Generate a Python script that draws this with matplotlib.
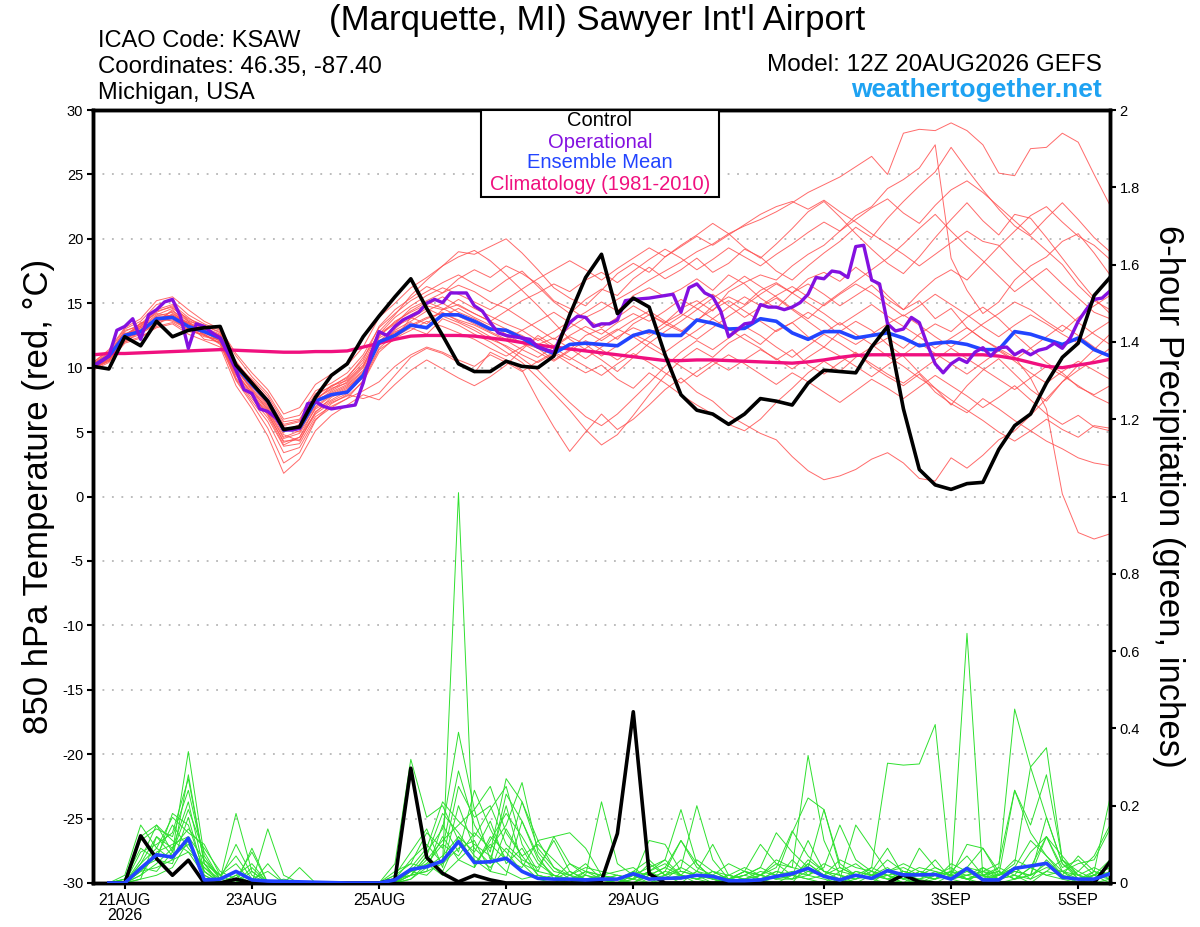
import numpy as np
import matplotlib
matplotlib.use("Agg")
import matplotlib.pyplot as plt
from matplotlib.patches import Rectangle

plt.rcParams['font.family'] = ['Liberation Sans', 'DejaVu Sans']

# ---------------- data ----------------
# 6-hourly steps from 20AUG 12Z (index 0) to 5SEP 12Z (index 64)
control_temp = [10.1, 9.9, 12.4, 11.7, 13.6, 12.4, 12.9, 13.1, 13.2,
                10.2, 8.8, 7.4, 5.2, 5.4, 7.7, 9.4, 10.3,
                12.4, 14.0, 15.5, 16.9, 14.6, 12.5, 10.3, 9.7,
                9.7, 10.5, 10.1, 10.0, 10.9, 14.1, 17.0, 18.8, 14.2, 15.4, 14.7, 11.0,
                7.9, 6.7, 6.4, 5.6, 6.4, 7.6, 7.4, 7.1, 8.8, 9.8, 9.7, 9.6, 11.6, 13.2,
                6.8, 2.1, 0.9, 0.55, 1.0, 1.1, 3.65, 5.5, 6.4, 8.8, 10.8, 11.9, 15.6, 17.0]

mean_temp = [10.1, 10.9, 12.5, 12.8, 13.8, 13.9, 13.2, 12.8, 12.3,
             10.1, 8.7, 7.4, 5.15, 5.3, 7.4, 7.9, 8.1,
             9.4, 12.0, 12.5, 13.3, 13.1, 14.1, 14.1, 13.6,
             13.0, 12.9, 12.3, 11.6, 11.1, 11.8, 11.9, 11.8, 11.7, 12.5, 12.85, 12.5,
             12.5, 13.7, 13.45, 13.0, 13.05, 13.8, 13.6, 12.7, 12.2, 12.8, 12.8, 12.3, 12.5, 12.7,
             12.3, 11.7, 11.9, 12.0, 11.8, 11.4, 11.4, 12.8, 12.6, 12.2, 11.8, 12.3, 11.4, 10.9]

clim_temp = [11.0, 11.1, 11.1, 11.15, 11.2, 11.25, 11.3, 11.35, 11.4,
             11.35, 11.3, 11.25, 11.2, 11.2, 11.25, 11.25, 11.3,
             11.6, 11.9, 12.2, 12.45, 12.5, 12.5, 12.5, 12.45,
             12.3, 12.15, 11.95, 11.75, 11.6, 11.45, 11.3, 11.15, 11.0, 10.85, 10.7, 10.55,
             10.55, 10.6, 10.6, 10.55, 10.5, 10.45, 10.4, 10.35, 10.45, 10.6, 10.8, 10.95, 11.0, 11.0,
             11.0, 11.0, 11.0, 11.0, 11.0, 11.0, 10.9, 10.7, 10.4, 10.1, 10.0, 10.2, 10.4, 10.65]

# operational run: 3-hourly, index 0..128
oper_temp = [10.1, 10.5, 10.9, 12.9, 13.2, 13.8, 12.2, 14.1, 14.5, 15.1, 15.3, 14.0, 11.5,
             13.4, 13.2, 12.7, 12.3, 11.1, 9.8, 8.3, 8.0, 6.8, 6.6, 6.1, 5.2, 5.15, 5.3,
             7.2, 7.35, 7.0, 6.8, 6.9, 7.0, 7.1, 8.8, 11.1, 12.8, 12.5, 13.2, 13.7, 14.0,
             14.3, 15.0, 15.3, 15.05, 15.8, 15.8, 15.8, 14.8, 14.4, 13.5, 12.7, 12.5, 12.4,
             12.3, 12.2, 11.6, 11.4, 11.2, 12.6, 13.5, 14.0, 13.9, 13.2, 13.4, 13.4, 13.7,
             15.2, 15.3, 15.35, 15.4, 15.5, 15.6, 15.7, 14.3, 16.2, 16.5, 15.8, 15.5, 14.4,
             12.4, 12.9, 13.4, 13.5, 14.9, 14.7, 14.7, 14.5, 14.7, 15.05, 15.7, 17.0, 16.9,
             17.5, 17.4, 17.0, 19.4, 19.5, 16.8, 16.5, 13.4, 12.85, 13.0, 13.9, 13.5, 11.8,
             10.3, 9.6, 10.3, 10.7, 10.4, 11.2, 11.55, 10.9, 11.55, 11.6, 11.0, 11.35, 11.0,
             11.35, 11.5, 11.9, 11.5, 12.3, 13.6, 14.5, 15.3, 15.4, 15.95]

# ensemble members (850 hPa temperature, 6-hourly)
temp_m01 = [10.3, 11.2, 12.8, 13.4, 14.5, 14.9, 13.9, 13.0, 12.5, 10.5, 8.9, 7.6, 5.6, 5.9, 7.8, 8.6, 9.0,
            10.2, 12.5, 13.4, 14.6, 15.2, 15.8, 16.4, 15.9, 15.1, 14.6, 13.8, 13.0, 12.2, 13.1, 13.9, 14.5,
            15.3, 16.0, 16.8, 17.5, 18.2, 19.0, 19.6, 20.4, 21.0, 21.5, 22.1, 22.8, 23.6, 24.2, 24.8, 25.6,
            26.4, 25.0, 28.2, 28.5, 28.4, 29.0, 28.4, 27.3, 25.1, 24.9, 27.0, 27.1, 28.2, 27.5, 25.0, 22.6]
temp_m02 = [10.0, 10.6, 12.1, 12.6, 13.5, 14.1, 13.4, 12.9, 12.0, 9.6, 7.9, 6.5, 4.2, 4.6, 6.9, 7.8, 8.4,
            9.6, 11.8, 12.9, 13.6, 14.4, 15.0, 14.3, 13.8, 13.1, 12.4, 11.9, 11.5, 10.6, 11.4, 12.5, 13.0,
            12.2, 13.4, 14.1, 13.5, 14.6, 15.2, 14.4, 15.9, 16.6, 17.2, 16.8, 17.9, 18.8, 19.5, 20.6, 21.8,
            22.5, 23.9, 24.6, 25.5, 27.3, 18.5, 16.0, 14.2, 15.1, 16.8, 17.9, 18.6, 19.8, 20.4, 18.9, 17.2]
temp_m03 = [10.2, 10.8, 12.4, 13.1, 13.6, 14.4, 13.6, 12.5, 12.1, 9.2, 7.6, 6.1, 3.9, 4.1, 6.2, 7.0, 7.6,
            9.0, 11.4, 12.2, 13.9, 13.4, 14.5, 14.9, 14.2, 13.6, 13.0, 12.5, 11.8, 12.3, 11.5, 10.7, 11.6,
            12.4, 13.1, 12.6, 13.5, 14.2, 13.6, 14.8, 15.5, 14.9, 16.0, 16.6, 15.8, 16.9, 17.4, 16.7, 17.8,
            16.9, 15.6, 14.5, 15.2, 13.8, 14.6, 13.1, 12.2, 11.5, 10.8, 9.2, 6.8, 0.2, -2.8, -3.3, -2.9]
temp_m04 = [9.8, 10.4, 11.9, 12.3, 13.2, 13.5, 12.8, 12.6, 11.8, 9.0, 7.2, 5.3, 2.6, 3.4, 5.9, 7.2, 7.9,
            7.6, 8.0, 9.4, 10.8, 11.5, 11.1, 10.4, 9.6, 11.2, 10.6, 9.8, 7.5, 5.4, 3.5, 5.0, 6.4,
            5.2, 6.0, 7.1, 8.3, 9.2, 8.1, 7.4, 6.3, 5.6, 4.9, 4.4, 3.1, 2.0, 1.3, 1.6, 2.1,
            2.9, 3.4, 2.6, 1.4, 1.2, 3.0, 2.2, 3.2, 4.4, 5.1, 6.3, 7.6, 8.9, 10.2, 11.4, 12.6]
temp_m05 = [10.4, 11.3, 13.0, 13.6, 14.9, 15.2, 14.1, 13.4, 12.9, 10.9, 9.3, 8.0, 6.0, 6.3, 8.2, 8.8, 9.6,
            11.0, 13.1, 14.2, 15.2, 15.9, 16.6, 17.2, 16.5, 15.9, 16.8, 17.5, 16.3, 15.1, 14.2, 15.3, 16.1,
            15.6, 16.9, 17.8, 16.9, 17.6, 18.5, 17.4, 18.1, 19.2, 18.6, 17.5, 16.8, 17.9, 18.9, 19.8, 20.9,
            20.1, 21.6, 22.9, 24.1, 25.2, 27.1, 25.4, 23.8, 22.3, 21.0, 20.2, 19.1, 18.0, 16.4, 15.2, 14.5]
temp_m06 = [10.1, 11.0, 12.6, 13.2, 14.1, 14.6, 13.8, 13.3, 12.7, 10.3, 8.8, 7.2, 5.0, 5.6, 7.6, 8.3, 9.1,
            10.4, 12.8, 14.1, 15.6, 16.8, 17.9, 19.0, 18.8, 19.4, 20.0, 18.9, 17.6, 16.2, 15.4, 14.8, 16.0,
            17.3, 18.1, 17.4, 18.6, 19.5, 20.3, 21.2, 20.4, 19.3, 18.5, 19.6, 20.8, 22.1, 22.9, 21.7, 20.4,
            19.2, 18.1, 17.3, 18.6, 20.1, 21.5, 22.8, 21.4, 20.3, 21.9, 21.6, 20.1, 18.5, 16.9, 15.4, 14.2]
temp_m07 = [9.9, 10.7, 12.2, 12.9, 13.9, 13.6, 13.0, 12.4, 12.2, 9.9, 8.2, 6.8, 4.8, 4.3, 6.6, 7.4, 8.0,
            9.3, 11.9, 12.4, 13.1, 12.6, 13.8, 13.3, 12.6, 12.0, 11.2, 10.4, 9.2, 8.0, 6.7, 5.2, 4.0,
            4.8, 6.3, 7.9, 9.4, 10.6, 11.5, 10.8, 11.9, 12.6, 11.8, 12.9, 13.5, 12.4, 11.6, 12.8, 13.6,
            12.9, 11.8, 10.9, 9.6, 8.4, 7.1, 8.6, 9.8, 10.7, 9.5, 8.3, 7.4, 8.9, 9.8, 10.6, 11.5]
temp_m08 = [10.2, 10.9, 12.7, 12.5, 14.0, 14.0, 13.1, 12.9, 12.4, 10.0, 8.6, 7.0, 5.3, 5.0, 7.2, 8.1, 8.7,
            9.8, 12.3, 13.0, 14.1, 14.8, 14.5, 15.3, 14.6, 14.0, 13.4, 12.9, 12.1, 12.8, 13.6, 14.3, 15.1,
            14.4, 15.6, 16.2, 15.5, 16.1, 16.9, 16.0, 17.2, 16.5, 15.4, 14.6, 15.8, 16.5, 15.7, 14.8, 15.6,
            16.4, 15.3, 14.5, 15.8, 16.9, 17.6, 16.8, 18.1, 19.4, 20.6, 21.8, 22.5, 21.3, 20.2, 19.5, 18.4]
temp_m09 = [10.0, 10.5, 12.3, 12.7, 13.3, 14.2, 13.5, 12.2, 12.0, 9.5, 8.1, 6.6, 4.5, 4.9, 6.8, 7.5, 8.2,
            9.2, 11.5, 12.6, 13.3, 13.9, 14.2, 13.7, 13.3, 12.7, 12.1, 11.4, 10.8, 11.6, 12.4, 11.8, 10.9,
            11.7, 12.6, 12.0, 11.2, 12.1, 12.9, 13.8, 13.0, 12.2, 11.5, 10.6, 11.4, 10.2, 9.5, 10.4, 11.2,
            10.1, 9.3, 8.6, 9.5, 8.1, 7.2, 6.5, 7.6, 6.8, 5.9, 5.1, 4.3, 3.7, 3.0, 2.6, 2.4]
temp_m10 = [10.3, 11.1, 12.5, 13.0, 13.7, 13.8, 12.9, 12.8, 12.3, 9.8, 8.4, 6.9, 5.2, 5.4, 7.5, 8.0, 8.6,
            9.7, 12.1, 12.7, 13.5, 13.0, 14.0, 13.5, 12.9, 12.2, 11.7, 11.0, 10.4, 11.1, 10.3, 9.6, 10.2,
            9.1, 8.4, 9.6, 8.8, 7.9, 7.1, 6.4, 5.6, 5.1, 6.0, 7.3, 8.4, 9.6, 10.5, 9.7, 10.8,
            11.6, 12.3, 11.5, 12.6, 13.4, 12.8, 13.9, 14.7, 13.8, 12.6, 11.5, 10.4, 9.6, 8.5, 7.9, 8.6]
temp_m11 = [10.1, 10.8, 12.4, 13.3, 14.3, 14.8, 13.7, 13.1, 12.6, 10.2, 9.1, 7.8, 5.8, 6.0, 8.0, 8.5, 9.3,
            10.6, 13.2, 14.5, 15.4, 16.3, 15.8, 16.9, 17.6, 17.0, 17.9, 17.3, 16.5, 15.2, 14.6, 13.8, 13.1,
            13.9, 14.8, 14.1, 13.4, 12.8, 13.7, 14.5, 15.2, 14.4, 13.6, 12.8, 13.5, 14.3, 13.6, 12.5, 11.8,
            12.6, 13.4, 14.1, 13.3, 12.4, 11.6, 12.5, 13.4, 14.2, 15.1, 14.5, 13.6, 12.8, 13.9, 14.8, 15.6]
temp_m12 = [10.0, 10.7, 12.6, 13.1, 14.0, 14.3, 13.3, 12.8, 12.4, 10.1, 8.5, 7.3, 5.5, 5.8, 7.6, 8.4, 8.8,
            10.0, 12.4, 13.6, 14.3, 14.9, 15.5, 14.8, 14.2, 13.6, 14.4, 15.2, 15.8, 16.5, 15.9, 16.8, 17.4,
            16.6, 17.5, 18.4, 19.2, 18.5, 17.6, 18.4, 19.3, 18.6, 17.9, 18.8, 19.6, 20.5, 21.3, 20.6, 21.5,
            22.4, 23.1, 22.0, 21.2, 22.6, 23.8, 24.5, 23.6, 22.5, 21.4, 20.3, 21.6, 22.8, 21.5, 20.1, 19.0]
temp_m13 = [10.2, 10.6, 12.0, 12.8, 13.4, 13.9, 13.2, 12.6, 11.9, 9.1, 7.4, 5.8, 3.4, 3.8, 6.0, 6.9, 7.6,
            8.2, 8.9, 10.1, 11.0, 11.6, 11.2, 10.6, 10.1, 11.0, 10.4, 9.7, 10.5, 11.2, 10.6, 11.5, 12.3,
            13.0, 12.4, 11.6, 10.9, 10.1, 9.3, 10.2, 11.0, 10.3, 9.5, 8.7, 9.6, 8.9, 8.1, 7.3, 8.2,
            9.1, 8.4, 7.6, 8.5, 9.4, 8.6, 7.8, 6.9, 7.7, 8.6, 7.5, 6.4, 5.6, 6.3, 5.4, 5.1]
temp_m14 = [9.9, 10.5, 12.0, 12.4, 13.1, 13.4, 12.6, 12.1, 11.6, 8.6, 6.8, 4.7, 1.8, 2.9, 5.1, 6.3, 7.1,
            7.9, 7.5, 8.7, 9.8, 10.6, 9.9, 9.2, 8.6, 9.3, 10.2, 11.4, 12.5, 11.7, 12.5, 13.2, 12.6,
            13.5, 14.2, 13.6, 14.4, 15.3, 14.6, 13.8, 14.7, 15.5, 14.8, 15.6, 16.3, 15.5, 14.8, 15.7, 16.5,
            15.8, 14.9, 14.0, 14.8, 15.7, 14.9, 14.1, 13.2, 12.4, 13.3, 14.1, 13.4, 12.6, 11.9, 12.8, 13.6]
temp_m15 = [10.4, 11.4, 13.1, 13.8, 15.2, 15.5, 14.5, 13.6, 13.0, 11.1, 9.6, 8.3, 6.4, 6.9, 8.7, 9.5, 10.2,
            11.6, 13.9, 15.0, 16.2, 17.0, 17.9, 18.6, 19.1, 18.3, 17.2, 16.0, 14.8, 13.5, 12.2, 11.4, 10.6,
            9.7, 10.8, 11.9, 12.8, 13.6, 14.5, 15.4, 16.2, 17.1, 16.3, 15.5, 14.6, 13.8, 14.9, 15.8, 16.7,
            17.6, 18.5, 19.6, 20.8, 21.9, 20.6, 19.4, 18.3, 17.1, 15.9, 16.8, 17.7, 16.5, 15.4, 14.3, 13.8]
temp_m16 = [10.1, 10.9, 12.3, 13.5, 13.5, 14.5, 13.2, 12.7, 12.1, 9.7, 8.0, 6.3, 4.0, 4.6, 6.5, 7.7, 8.3,
            9.5, 11.7, 12.8, 13.2, 13.8, 14.3, 13.6, 13.1, 12.4, 11.6, 10.7, 9.8, 8.5, 7.3, 6.2, 5.5,
            6.4, 7.6, 8.8, 10.1, 11.2, 12.1, 11.4, 12.3, 13.2, 12.5, 11.6, 10.8, 11.7, 12.6, 11.9, 11.1,
            10.3, 9.5, 8.8, 9.7, 10.6, 11.5, 10.7, 9.9, 9.1, 8.3, 9.2, 10.1, 9.4, 8.6, 7.8, 7.2]
temp_m17 = [10.2, 11.0, 12.9, 13.2, 14.4, 14.7, 13.6, 13.2, 12.8, 10.4, 9.0, 7.5, 5.4, 5.2, 7.4, 8.6, 9.2,
            10.8, 12.6, 13.9, 14.8, 15.6, 16.2, 15.7, 15.1, 14.5, 15.3, 16.1, 16.9, 17.6, 18.3, 17.6, 16.8,
            17.7, 18.5, 19.3, 18.6, 19.4, 20.2, 19.5, 20.3, 21.1, 21.9, 22.5, 22.9, 22.3, 23.0, 22.1, 21.3,
            20.4, 19.6, 18.8, 17.9, 18.8, 19.7, 20.6, 19.8, 19.5, 18.2, 17.0, 15.8, 14.6, 13.5, 12.6, 11.8]
temp_m18 = [10.0, 10.8, 12.2, 12.9, 13.8, 14.1, 13.4, 12.9, 12.5, 10.0, 8.3, 6.7, 4.6, 5.1, 7.0, 7.9, 8.5,
            9.5, 12.0, 13.2, 13.8, 14.6, 14.0, 14.6, 13.9, 13.3, 12.6, 11.9, 11.2, 10.5, 11.3, 12.1, 11.4,
            10.6, 11.5, 12.4, 13.2, 14.0, 14.9, 15.7, 14.8, 13.9, 14.7, 15.4, 14.5, 13.6, 12.7, 13.5, 12.6,
            11.8, 10.9, 10.1, 9.2, 8.4, 7.5, 6.7, 5.9, 5.0, 4.3, 5.1, 6.0, 5.2, 4.6, 5.5, 5.3]
temp_m19 = [10.3, 11.0, 12.5, 13.4, 14.2, 14.0, 13.5, 13.0, 12.5, 10.1, 8.7, 7.1, 5.0, 5.5, 7.3, 8.2, 8.9,
            10.1, 12.6, 13.5, 14.4, 15.1, 14.6, 14.0, 13.4, 12.8, 12.2, 12.9, 13.6, 14.3, 13.5, 12.8, 12.1,
            12.9, 13.7, 14.4, 13.6, 12.9, 12.2, 13.1, 14.0, 14.8, 15.7, 16.5, 15.8, 15.0, 14.2, 13.3, 14.1,
            14.9, 14.0, 13.2, 12.4, 11.5, 12.3, 13.1, 12.2, 11.4, 10.6, 11.5, 12.4, 13.3, 12.5, 11.6, 10.8]
temp_m20 = [9.9, 10.6, 12.3, 12.7, 13.7, 13.7, 13.0, 12.5, 11.9, 9.4, 7.8, 6.4, 4.3, 4.4, 6.4, 7.3, 7.8,
            8.9, 11.2, 12.3, 12.9, 13.6, 13.2, 12.7, 12.2, 11.5, 10.9, 11.6, 12.3, 11.5, 10.8, 10.1, 9.4,
            10.3, 11.1, 10.4, 9.6, 8.8, 9.7, 10.5, 9.8, 10.6, 11.4, 10.7, 9.9, 10.8, 11.6, 10.9, 10.1,
            9.3, 10.2, 11.0, 11.9, 11.1, 10.3, 9.5, 10.4, 11.3, 10.5, 9.6, 8.8, 9.7, 10.5, 9.8, 9.1]

# 6-hour precipitation (inches), index 1..64
control_precip = [0, 0, 0.122, 0.063, 0.02, 0.059, 0.0, 0.0, 0.01, 0, 0, 0, 0, 0, 0, 0,
                  0, 0, 0.008, 0.297, 0.066, 0.025, 0.003, 0.02, 0.008, 0, 0, 0, 0, 0, 0, 0.006,
                  0.128, 0.443, 0.024, 0, 0, 0, 0, 0, 0, 0, 0, 0, 0, 0, 0, 0,
                  0, 0, 0.021, 0.003, 0, 0, 0, 0, 0, 0, 0, 0, 0, 0, 0, 0.055]
mean_precip = [0, 0, 0.038, 0.073, 0.067, 0.116, 0.008, 0.010, 0.03, 0.008, 0.005, 0.004, 0.003, 0.002, 0.001, 0,
               0, 0, 0.008, 0.035, 0.042, 0.057, 0.107, 0.053, 0.055, 0.064, 0.030, 0.012, 0.01, 0.01, 0.008, 0.01,
               0.01, 0.024, 0.01, 0.012, 0.013, 0.02, 0.017, 0.006, 0.006, 0.008, 0.017, 0.024, 0.038, 0.017, 0.008, 0.02,
               0.012, 0.032, 0.021, 0.021, 0.022, 0.010, 0.038, 0.008, 0.008, 0.038, 0.044, 0.051, 0.015, 0.010, 0.010, 0.024]

precip_g01 = [0, 0, 0.05, 0.12, 0.09, 0.21, 0.03, 0, 0.02, 0, 0, 0, 0, 0, 0, 0,
              0, 0, 0.01, 0.06, 0.10, 0.05, 1.01, 0.04, 0.12, 0.08, 0.03, 0.01, 0, 0.02, 0.05, 0.01,
              0, 0, 0.03, 0.06, 0.02, 0, 0, 0.01, 0.03, 0.01, 0, 0, 0.05, 0.02, 0, 0.01,
              0.04, 0.02, 0, 0, 0.01, 0.03, 0.07, 0.02, 0, 0.01, 0.04, 0.12, 0.03, 0, 0.02, 0.06]
precip_g02 = [0, 0.01, 0.12, 0.15, 0.08, 0.34, 0.07, 0.01, 0, 0.03, 0, 0, 0, 0, 0, 0,
              0, 0, 0, 0.03, 0.08, 0.14, 0.39, 0.19, 0.25, 0.13, 0.07, 0.02, 0.01, 0, 0.03, 0.02,
              0.01, 0, 0.02, 0.04, 0.11, 0.05, 0.01, 0, 0, 0.02, 0.06, 0.04, 0.33, 0.11, 0.02, 0,
              0, 0.03, 0.01, 0, 0.02, 0.01, 0.04, 0.09, 0.03, 0.01, 0.02, 0.05, 0.01, 0, 0.03, 0.22]
precip_g03 = [0, 0, 0.08, 0.10, 0.13, 0.27, 0.05, 0, 0.01, 0, 0.14, 0.02, 0, 0, 0, 0,
              0, 0, 0.02, 0.05, 0.13, 0.09, 0.29, 0.15, 0.08, 0.27, 0.21, 0.11, 0.04, 0.01, 0, 0,
              0, 0.01, 0.05, 0.02, 0, 0.03, 0.01, 0, 0.01, 0, 0.02, 0.13, 0.22, 0.19, 0.04, 0.02,
              0.01, 0, 0.02, 0.01, 0, 0.02, 0.01, 0, 0.02, 0.05, 0.30, 0.35, 0.06, 0.02, 0, 0.01]
precip_g04 = [0, 0.02, 0.15, 0.09, 0.17, 0.13, 0.10, 0.02, 0, 0, 0, 0, 0, 0, 0, 0,
              0, 0, 0.05, 0.32, 0.17, 0.20, 0.11, 0.06, 0.03, 0.02, 0.16, 0.07, 0.01, 0, 0.02, 0.21,
              0.05, 0.02, 0, 0.01, 0.04, 0.20, 0.06, 0.01, 0, 0.01, 0.03, 0.02, 0.01, 0, 0.03, 0.05,
              0.02, 0.01, 0, 0.03, 0.02, 0.01, 0, 0.04, 0.01, 0.02, 0, 0.03, 0.06, 0.01, 0.02, 0]
precip_g05 = [0, 0, 0.03, 0.07, 0.15, 0.09, 0.04, 0, 0, 0, 0, 0, 0, 0, 0, 0,
              0, 0, 0, 0.02, 0.06, 0.11, 0.15, 0.19, 0.06, 0.20, 0.05, 0.01, 0.02, 0, 0.01, 0,
              0, 0.02, 0.01, 0.03, 0.02, 0.01, 0, 0.02, 0.04, 0.02, 0.01, 0.06, 0.02, 0.05, 0.03, 0.02,
              0.04, 0.31, 0.305, 0.308, 0.41, 0.007, 0.646, 0.016, 0.02, 0.04, 0.01, 0.03, 0.02, 0, 0.01, 0.03]
precip_g06 = [0, 0, 0.04, 0.06, 0.05, 0.17, 0.02, 0, 0, 0.09, 0, 0, 0.04, 0, 0, 0,
              0, 0, 0, 0.01, 0.04, 0.07, 0.12, 0.05, 0.10, 0.06, 0.21, 0.09, 0.04, 0.02, 0, 0.01,
              0.02, 0.01, 0.11, 0.10, 0.03, 0.02, 0.01, 0, 0, 0.01, 0.02, 0.01, 0.03, 0.02, 0.01, 0.15,
              0.09, 0.03, 0.01, 0.02, 0.01, 0.03, 0.02, 0.01, 0.04, 0.45, 0.30, 0.17, 0.05, 0.02, 0.01, 0.02]
precip_g07 = [0, 0.01, 0.11, 0.14, 0.12, 0.24, 0.06, 0.01, 0.18, 0.03, 0, 0, 0, 0, 0, 0,
              0, 0, 0, 0.04, 0.09, 0.21, 0.16, 0.12, 0.19, 0.25, 0.10, 0.03, 0.12, 0.13, 0.09, 0.02,
              0.01, 0, 0.02, 0.01, 0.01, 0.03, 0.10, 0.02, 0.01, 0, 0, 0.02, 0.04, 0.02, 0.01, 0,
              0.02, 0.04, 0.01, 0.09, 0.04, 0.02, 0.10, 0.09, 0.02, 0.24, 0.15, 0.28, 0.06, 0.03, 0.07, 0.15]
precip_g08 = [0, 0, 0.02, 0.05, 0.09, 0.14, 0.09, 0.03, 0.01, 0.08, 0, 0, 0, 0, 0, 0,
              0, 0, 0.01, 0.02, 0.03, 0.15, 0.08, 0.24, 0.14, 0.06, 0.04, 0.11, 0.12, 0.05, 0.03, 0.01,
              0, 0.03, 0.06, 0.02, 0.04, 0.02, 0, 0.01, 0.02, 0.04, 0.13, 0.08, 0.04, 0.19, 0.05, 0.02,
              0.01, 0.02, 0, 0.01, 0.03, 0.01, 0.02, 0.03, 0.01, 0.02, 0.08, 0.12, 0.04, 0.06, 0.02, 0.01]
precip_g09 = [0, 0, 0.06, 0.15, 0.11, 0.08, 0.05, 0.02, 0.05, 0, 0, 0.01, 0, 0, 0, 0,
              0, 0, 0.02, 0.08, 0.14, 0.04, 0.20, 0.09, 0.05, 0.23, 0.16, 0.06, 0.02, 0.01, 0.01, 0,
              0, 0.01, 0, 0.02, 0.06, 0.03, 0.02, 0.05, 0.03, 0.02, 0.01, 0.01, 0.06, 0.03, 0.02, 0.01,
              0.03, 0.02, 0.01, 0.03, 0.02, 0.04, 0.01, 0.02, 0.03, 0.01, 0.02, 0.17, 0.05, 0.01, 0.02, 0.04]
precip_g10 = [0, 0.01, 0.09, 0.06, 0.18, 0.15, 0.03, 0, 0.02, 0.05, 0, 0, 0, 0, 0, 0,
              0, 0, 0, 0.01, 0.05, 0.10, 0.07, 0.13, 0.09, 0.15, 0.26, 0.08, 0.03, 0.02, 0.04, 0.03,
              0.02, 0.01, 0.03, 0.05, 0.02, 0.01, 0.03, 0.01, 0.02, 0.04, 0.02, 0.03, 0.02, 0.01, 0, 0.03,
              0.02, 0.06, 0.03, 0.02, 0.01, 0.05, 0.03, 0.01, 0.02, 0.06, 0.04, 0.02, 0.01, 0.03, 0.01, 0.05]
precip_g11 = [0, 0, 0.01, 0.12, 0.07, 0.10, 0.04, 0.01, 0.10, 0.02, 0, 0, 0, 0, 0, 0,
              0, 0, 0, 0.03, 0.02, 0.06, 0.25, 0.17, 0.20, 0.10, 0.06, 0.04, 0.11, 0.03, 0.01, 0.02,
              0.03, 0.04, 0.01, 0.03, 0.11, 0.04, 0.02, 0.01, 0.03, 0.10, 0.05, 0.02, 0.01, 0.02, 0.04, 0.02,
              0.01, 0.03, 0.04, 0.02, 0.06, 0.01, 0.02, 0.04, 0.02, 0.03, 0.02, 0.12, 0.07, 0.02, 0.01, 0.03]
precip_g12 = [0, 0, 0.04, 0.03, 0.08, 0.19, 0.08, 0.01, 0, 0, 0, 0, 0, 0, 0, 0,
              0, 0, 0.01, 0.02, 0.07, 0.03, 0.12, 0.08, 0.16, 0.05, 0.09, 0.02, 0.01, 0.03, 0.01, 0.02,
              0.01, 0.02, 0.04, 0.06, 0.19, 0.05, 0.01, 0.02, 0.01, 0.03, 0.02, 0.01, 0.02, 0.04, 0.15, 0.06,
              0.03, 0.09, 0.02, 0.01, 0.02, 0.03, 0.01, 0.02, 0.03, 0.01, 0.04, 0.02, 0.03, 0.05, 0.06, 0.14]
precip_g13 = [0, 0, 0.02, 0.08, 0.10, 0.12, 0.06, 0.02, 0.07, 0.01, 0.03, 0, 0, 0, 0, 0,
              0, 0, 0.03, 0.05, 0.04, 0.12, 0.06, 0.04, 0.11, 0.18, 0.12, 0.05, 0.02, 0.01, 0.02, 0.01,
              0, 0.02, 0.01, 0.02, 0.03, 0.02, 0.01, 0, 0.01, 0.02, 0.01, 0.02, 0.11, 0.03, 0.01, 0.02,
              0.01, 0.02, 0.03, 0.02, 0.01, 0.02, 0.01, 0.03, 0.05, 0.24, 0.13, 0.07, 0.02, 0.01, 0.03, 0.02]
precip_g14 = [0, 0, 0.03, 0.04, 0.06, 0.08, 0.02, 0, 0, 0, 0.05, 0, 0, 0, 0, 0,
              0, 0, 0.01, 0.03, 0.05, 0.02, 0.06, 0.10, 0.07, 0.03, 0.01, 0.02, 0.01, 0.05, 0.02, 0.01,
              0.02, 0.01, 0.03, 0.01, 0.02, 0.01, 0.03, 0.02, 0.01, 0.02, 0.04, 0.135, 0.07, 0.03, 0.02, 0.01,
              0.02, 0.01, 0.03, 0.02, 0.04, 0.02, 0.01, 0.02, 0.01, 0.03, 0.02, 0.04, 0.03, 0.02, 0.04, 0.02]
precip_g15 = [0, 0, 0.01, 0.02, 0.04, 0.11, 0.03, 0, 0, 0, 0, 0, 0, 0, 0, 0,
              0, 0, 0, 0.02, 0.03, 0.05, 0.09, 0.11, 0.03, 0.14, 0.07, 0.10, 0.06, 0.02, 0.01, 0,
              0.01, 0.02, 0.01, 0.01, 0.02, 0.06, 0.03, 0.01, 0.02, 0.01, 0.03, 0.02, 0.05, 0.02, 0.01, 0.03,
              0.02, 0.03, 0.05, 0.03, 0.02, 0.01, 0.03, 0.02, 0.04, 0.02, 0.01, 0.06, 0.02, 0.07, 0.03, 0.01]
precip_g16 = [0, 0, 0.05, 0.09, 0.06, 0.28, 0.05, 0, 0, 0.04, 0, 0, 0, 0, 0, 0,
              0, 0, 0, 0.02, 0.07, 0.18, 0.13, 0.07, 0.04, 0.09, 0.05, 0.03, 0.02, 0.01, 0.03, 0.02,
              0.01, 0.03, 0.02, 0.04, 0.02, 0.01, 0.02, 0.01, 0.03, 0.02, 0.05, 0.04, 0.03, 0.02, 0.06, 0.04,
              0.03, 0.01, 0.02, 0.04, 0.03, 0.02, 0.04, 0.03, 0.02, 0.04, 0.11, 0.07, 0.03, 0.01, 0.02, 0.04]

tick_days = [0, 2, 4, 6, 8, 11, 13, 15]
tick_labels = ["21AUG\n2026", "23AUG", "25AUG", "27AUG", "29AUG", "1SEP", "3SEP", "5SEP"]
temp_ticks = [-30, -25, -20, -15, -10, -5, 0, 5, 10, 15, 20, 25, 30]
precip_ticks = [0, 0.2, 0.4, 0.6, 0.8, 1.0, 1.2, 1.4, 1.6, 1.8, 2.0]
precip_tick_labels = ["0", "0.2", "0.4", "0.6", "0.8", "1", "1.2", "1.4", "1.6", "1.8", "2"]

temp_members = [temp_m01, temp_m02, temp_m03, temp_m04, temp_m05, temp_m06, temp_m07, temp_m08, temp_m09,
                temp_m10, temp_m11, temp_m12, temp_m13, temp_m14, temp_m15, temp_m16, temp_m17, temp_m18,
                temp_m19, temp_m20]
precip_members = [precip_g01, precip_g02, precip_g03, precip_g04, precip_g05, precip_g06, precip_g07,
                  precip_g08, precip_g09, precip_g10, precip_g11, precip_g12, precip_g13, precip_g14,
                  precip_g15, precip_g16]

# time axis in days from 21AUG 00Z
t6 = np.arange(65) * 0.25 - 0.5
t6p = t6[1:]
t3 = np.arange(129) * 0.125 - 0.5

# ---------------- figure ----------------
W, H = 1200, 927
fig = plt.figure(figsize=(W / 100, H / 100), dpi=100)
L, R, T, B = 93, 1110, 110, 883
ax = fig.add_axes([L / W, 1 - B / H, (R - L) / W, (B - T) / H])
ax2 = ax.twinx()

# temperature
for m in temp_members:
    ax.plot(t6, m, color='#ff5050', lw=0.7, alpha=0.85, zorder=2)
ax.plot(t6, clim_temp, color='#f0107f', lw=2.4, zorder=4)
ax.plot(t6, mean_temp, color='#2244ff', lw=2.6, zorder=5)
ax.plot(t3, oper_temp, color='#8410e0', lw=2.4, zorder=6)
ax.plot(t6, control_temp, color='black', lw=2.6, zorder=7)

# precipitation
for m in precip_members:
    ax2.plot(t6p, m, color='#2ee02e', lw=0.7, zorder=2)
ax2.plot(t6p, control_precip, color='black', lw=2.6, zorder=4)
ax2.plot(t6p, mean_precip, color='#2244ff', lw=2.6, zorder=5)

ax.set_xlim(-0.5, 15.5)
ax.set_ylim(-30, 30)
ax2.set_ylim(0, 2)
ax.set_yticks(temp_ticks)
ax.set_yticklabels([str(v) for v in temp_ticks], fontsize=10.5)
ax2.set_yticks(precip_ticks)
ax2.set_yticklabels(precip_tick_labels, fontsize=10.5)
ax.set_xticks(tick_days)
ax.set_xticklabels(tick_labels, fontsize=11.5, linespacing=1.05)

for a in (ax, ax2):
    for s in a.spines.values():
        s.set_linewidth(2.5)
ax.tick_params(axis='both', direction='out', length=4, width=1.5, pad=3)
ax2.tick_params(axis='y', direction='out', length=4, width=1.5, pad=3)

for v in temp_ticks[1:-1]:
    ax.axhline(v, color='#aaaaaa', lw=1.1, linestyle=(0, (1.2, 5)), zorder=1)

ax.set_ylabel("850 hPa Temperature (red, °C)", fontsize=25, labelpad=5)
ax2.set_ylabel("6-hour Precipitation (green, inches)", fontsize=25, rotation=270, labelpad=32)

# header texts
fig.text(597 / W, 1 - 30 / H, "(Marquette, MI) Sawyer Int'l Airport", ha='center', va='baseline', fontsize=25)
fig.text(98 / W, 1 - 47 / H, "ICAO Code: KSAW", ha='left', va='baseline', fontsize=17)
fig.text(98 / W, 1 - 73 / H, "Coordinates: 46.35, -87.40", ha='left', va='baseline', fontsize=17.3)
fig.text(98 / W, 1 - 99 / H, "Michigan, USA", ha='left', va='baseline', fontsize=17)
fig.text(1102 / W, 1 - 71 / H, "Model: 12Z 20AUG2026 GEFS", ha='right', va='baseline', fontsize=17.5)
fig.text(1102 / W, 1 - 97 / H, "weathertogether.net", ha='right', va='baseline', fontsize=19,
         fontweight='bold', color='#1ea2f2')

# legend box
bx0, bx1, by0, by1 = 481, 719, 110, 197
fig.add_artist(Rectangle((bx0 / W, 1 - by1 / H), (bx1 - bx0) / W, (by1 - by0) / H,
                         transform=fig.transFigure, facecolor='white', edgecolor='black', lw=1.5, zorder=5))
leg_items = [("Control", 'black', 121), ("Operational", '#8410e0', 142),
             ("Ensemble Mean", '#2244ff', 163), ("Climatology (1981-2010)", '#f0107f', 185)]
for txt, col, yy in leg_items:
    fig.text(600 / W, 1 - yy / H, txt, ha='center', va='center', fontsize=14.5, color=col, zorder=6)

fig.savefig("out.png", dpi=100)
